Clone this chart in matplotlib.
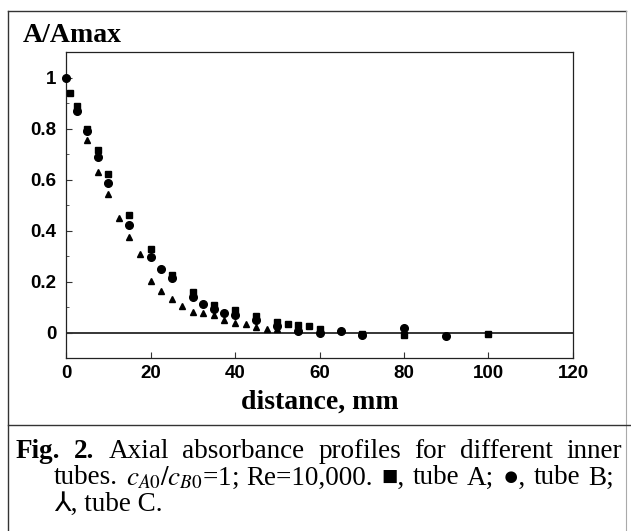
import matplotlib
matplotlib.use('Agg')
import matplotlib.pyplot as plt
import matplotlib.lines as mlines
import numpy as np

# tube A (squares)
dist_a = [1, 2.5, 5, 7.5, 10, 15, 20, 25, 30, 35, 40, 45, 50, 52.5, 55, 57.5, 60, 70, 80, 100]
abs_a = [0.94, 0.89, 0.80, 0.715, 0.62, 0.462, 0.327, 0.226, 0.157, 0.106, 0.089, 0.065,
         0.04, 0.033, 0.03, 0.026, 0.013, -0.006, -0.01, -0.005]
# tube B (circles)
dist_b = [0, 2.5, 5, 7.5, 10, 15, 20, 22.5, 25, 30, 32.5, 35, 37.5, 40, 45, 50, 55, 60, 65, 70, 80, 90]
abs_b = [1.0, 0.87, 0.79, 0.69, 0.586, 0.421, 0.298, 0.25, 0.213, 0.141, 0.113, 0.092, 0.076,
         0.067, 0.05, 0.026, 0.004, -0.003, 0.004, -0.01, 0.017, -0.013]
# tube C (triangles)
dist_c = [5, 7.5, 10, 12.5, 15, 17.5, 20, 22.5, 25, 27.5, 30, 32.5, 35, 37.5, 40, 42.5, 45, 47.5, 50]
abs_c = [0.755, 0.63, 0.543, 0.449, 0.374, 0.307, 0.203, 0.161, 0.131, 0.103, 0.08, 0.078,
         0.067, 0.05, 0.039, 0.033, 0.02, 0.015, 0.015]

xticks = [0, 20, 40, 60, 80, 100, 120]
yticks = [0, 0.2, 0.4, 0.6, 0.8, 1.0]
ylabels = ['0', '0.2', '0.4', '0.6', '0.8', '1']

plt.rcParams['mathtext.fontset'] = 'stix'
W, H = 631, 531
fig = plt.figure(figsize=(W / 100, H / 100), dpi=100)
ax = fig.add_axes([66 / W, 1 - 358 / H, 507 / W, 306 / H])

ax.axhline(0, color='black', lw=1.1, zorder=1)
ax.plot(dist_a, abs_a, 's', ms=5, color='black', clip_on=False, zorder=3)
ax.plot(dist_b, abs_b, 'o', ms=5.5, color='black', clip_on=False, zorder=3)
ax.plot(dist_c, abs_c, '^', ms=4.5, color='black', clip_on=False, zorder=3)

ax.set_xlim(0, 120)
ax.set_ylim(-0.1, 1.1)
ax.set_xticks(xticks)
ax.set_xticklabels([str(t) for t in xticks])
ax.set_yticks(yticks)
ax.set_yticklabels(ylabels)
ax.set_yticks(np.arange(-0.1, 1.15, 0.1), minor=True)
ax.tick_params(which='major', direction='in', length=4, width=0.8, color='#333333')
ax.tick_params(which='minor', direction='in', length=2.5, width=0.7, color='#555555')
ax.tick_params(axis='x', pad=5)
ax.tick_params(axis='y', pad=7)
for lab in ax.get_xticklabels() + ax.get_yticklabels():
    lab.set_fontfamily('Liberation Sans')
    lab.set_fontweight('bold')
    lab.set_fontsize(13.5)
for s in ax.spines.values():
    s.set_linewidth(0.9)
    s.set_color('#222222')

fig.text(23 / W, 1 - 35 / H, 'A/Amax', family='Liberation Serif', weight='bold',
         fontsize=20, va='center', ha='left')
fig.text(320 / W, 1 - 402 / H, 'distance, mm', family='Liberation Serif', weight='bold',
         fontsize=20, va='center', ha='center')

# frame and separator
frame_kw = dict(transform=fig.transFigure, color='#333333', lw=1)
fig.add_artist(mlines.Line2D([7.5 / W, 7.5 / W], [0, 1 - 10.5 / H], **frame_kw))
fig.add_artist(mlines.Line2D([7.5 / W, 625.5 / W], [1 - 10.5 / H, 1 - 10.5 / H], **frame_kw))
fig.add_artist(mlines.Line2D([625.5 / W, 625.5 / W], [0, 1 - 10.5 / H], transform=fig.transFigure,
                             color='#aaaaaa', lw=0.8))
fig.add_artist(mlines.Line2D([7.5 / W, 1], [1 - 425 / H, 1 - 425 / H], **frame_kw))

cap_fam = ['Liberation Serif', 'DejaVu Sans']
cap_size = 19.5
renderer = fig.canvas.get_renderer()


def justify(words, x0, x1, yc, size=cap_size):
    texts = []
    for w, bold in words:
        t = fig.text(0, 1 - yc / H, w, family=cap_fam, fontsize=size,
                     weight='bold' if bold else 'normal', va='center', ha='left')
        texts.append(t)
    widths = [t.get_window_extent(renderer).width for t in texts]
    gap = ((x1 - x0) - sum(widths)) / (len(texts) - 1)
    x = x0
    for t, w in zip(texts, widths):
        t.set_x(x / W)
        x += w + gap


line1 = [('Fig.', True), ('2.', True), ('Axial', False), ('absorbance', False),
         ('profiles', False), ('for', False), ('different', False), ('inner', False)]
line2 = [('tubes.', False), ('$c_{A0}/c_{B0}$=1;', False), ('Re=10,000.', False),
         ('\u25a0,', False), ('tube', False), ('A;', False), ('\u25cf,', False),
         ('tube', False), ('B;', False)]
justify(line1, 16, 622, 452)
justify(line2, 54, 614, 478)
fig.text(54 / W, 1 - 504 / H, '\u2144, tube C.', family=cap_fam, fontsize=cap_size,
         va='center', ha='left')

fig.savefig('out.png', dpi=100)
